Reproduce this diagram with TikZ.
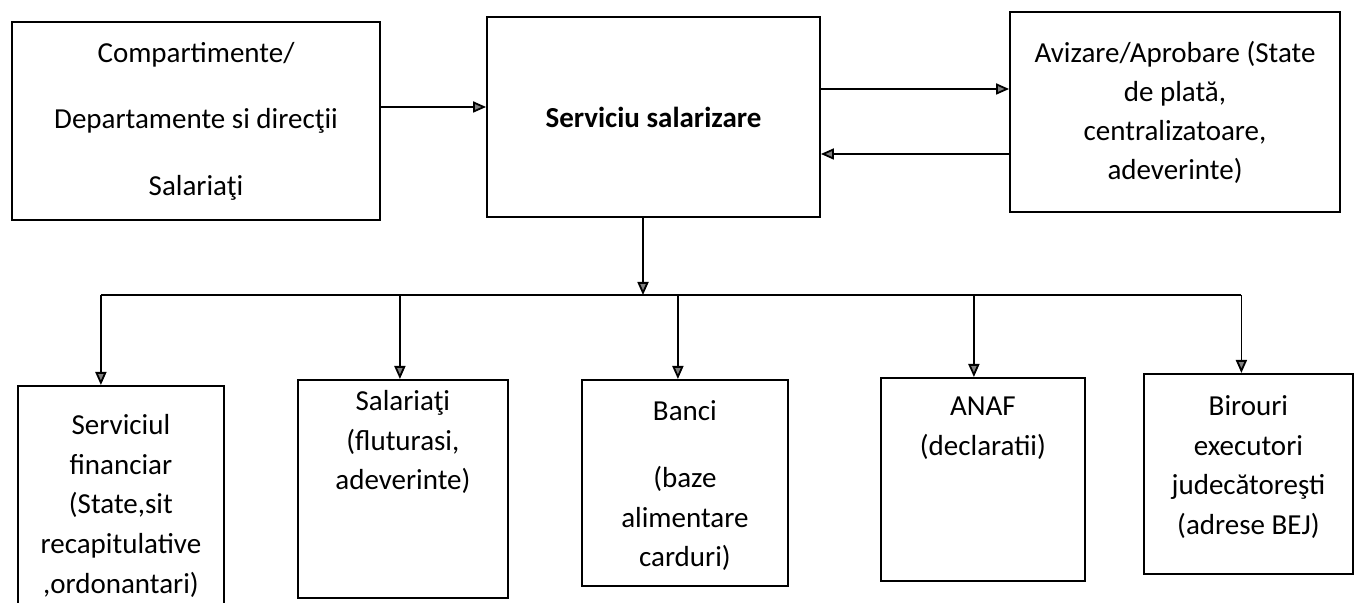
\documentclass[tikz,border=0pt]{standalone}
\usepackage{fontspec}
\setmainfont{Carlito}
\usetikzlibrary{arrows.meta}

\begin{document}
\begin{tikzpicture}[x=0.5pt, y=-0.5pt, line width=0.9pt,
    font=\fontsize{14.5}{19.8}\selectfont,
    topbox/.style={draw, align=center, inner sep=0pt},
    outbox/.style={draw, inner sep=0pt, anchor=north west},
    arr/.style={-{Triangle[length=6.5pt, width=5.5pt, fill=gray]}}]
    \useasboundingbox (0,0) rectangle (1365,603);

    % Upper row
    \node[topbox, minimum width=184pt, minimum height=99pt,
          font=\fontsize{14.5}{33.25}\selectfont] (comp) at (196,121)
          {Compartimente/\\Departamente si direcţii\\Salariaţi};
    \node[topbox, minimum width=166.5pt, minimum height=100pt,
          font=\fontsize{14.5}{19.8}\selectfont\bfseries] (sal) at (653.5,117)
          {Serviciu salarizare};
    \node[topbox, minimum width=165pt, minimum height=100pt,
          font=\fontsize{14.5}{19.5}\selectfont] (aviz) at (1175,112)
          {Avizare/Aprobare (State\\de plată,\\centralizatoare,\\adeverinte)};

    % Lower row
    \node[outbox] (finan) at (17,385) {\parbox[t][112.5pt][t]{103pt}{\centering
        \vspace*{13.4pt}\rule{0pt}{11pt}Serviciul\\financiar\\(State,sit\\recapitulative\\,ordonantari)}};
    \node[outbox] (salar) at (297,379) {\parbox[t][109pt][t]{105pt}{\centering
        \vspace*{4.4pt}\rule{0pt}{11pt}Salariaţi\\(fluturasi,\\adeverinte)}};
    \node[outbox] (banci) at (581,379) {\parbox[t][103pt][t]{103pt}{\centering
        \vspace*{9.4pt}\rule{0pt}{11pt}Banci\\[13.7pt](baze\\alimentare\\carduri)}};
    \node[outbox] (anaf) at (880,377) {\parbox[t][101.5pt][t]{102pt}{\centering
        \vspace*{7.9pt}\rule{0pt}{11pt}ANAF\\(declaratii)}};
    \node[outbox] (birou) at (1143,373) {\parbox[t][100pt][t]{104.5pt}{\centering
        \vspace*{9.9pt}\rule{0pt}{11pt}Birouri\\executori\\judecătoreşti\\(adrese BEJ)}};

    % Connectors between the upper boxes
    \draw[arr] ([yshift=7pt]comp.east) -- ([yshift=7pt]comp.east -| sal.west);
    \draw[arr] ([yshift=14pt]sal.east) -- ([yshift=14pt]sal.east -| aviz.west);
    \draw[arr] ([yshift=-18.5pt]sal.east -| aviz.west) -- ([yshift=-18.5pt]sal.east);

    % Distribution line
    \coordinate (bus) at (643,295);
    \draw[arr] (sal.south -| bus) -- (bus);
    \draw ([xshift=-10pt]finan.north |- bus) -- ([xshift=-3.5pt]birou.north |- bus);
    \foreach \n/\dx in {finan/-10pt, salar/-1.5pt, banci/-3.5pt, anaf/-4.5pt, birou/-3.5pt}
        \draw[arr] ([xshift=\dx]\n.north |- bus) -- ([xshift=\dx]\n.north);
\end{tikzpicture}
\end{document}
